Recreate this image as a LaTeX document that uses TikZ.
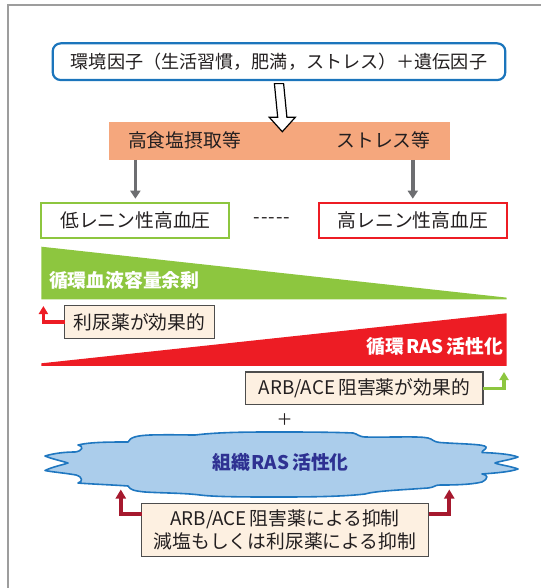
\documentclass[tikz,border=0pt]{standalone}
\usepackage{fontspec}
\setmainfont{Noto Sans CJK JP}
\usetikzlibrary{arrows.meta}
\definecolor{framegray}{HTML}{9D9D9D}
\definecolor{tblue}{HTML}{1B75BC}
\definecolor{salmon}{HTML}{F5A77D}
\definecolor{garrow}{HTML}{6D6E71}
\definecolor{lgreen}{HTML}{8DC63F}
\definecolor{bred}{HTML}{ED1C24}
\definecolor{cream}{HTML}{FDF0E1}
\definecolor{boxline}{HTML}{4D4D4D}
\definecolor{dred}{HTML}{A6192E}
\definecolor{cloudfill}{HTML}{ABCDEB}
\definecolor{cloudline}{HTML}{1F77C0}
\definecolor{navy}{HTML}{2E3192}
\definecolor{ink}{HTML}{231F20}
\begin{document}
\begin{tikzpicture}[x=1pt,y=-1pt,
  font=\fontsize{18.8}{23.4}\selectfont,
  every node/.style={inner sep=0pt, outer sep=0pt, text=ink},
  frameline/.style={draw=framegray, line width=2pt},
  hbox/.style={draw, line width=2pt, minimum height=35.6pt, fill=white},
  effbox/.style={draw=boxline, line width=1.2pt, fill=cream},
  grayarrow/.style={draw=garrow, line width=3.5pt, -{Triangle[width=10pt,length=8pt]}},
  elbow/.style={line width=3.3pt, -{Triangle[width=9pt,length=8pt]}},
  delbow/.style={draw=dred, line width=3.8pt, -{Triangle[width=10pt,length=9pt]}},
  whitebold/.style={text=white, font=\fontsize{18.8}{22}\selectfont\bfseries}
]
\useasboundingbox (0,0) rectangle (541,588);
% frame
\draw[frameline] (8.3,588) -- (8.3,5.5) -- (541,5.5);

% top box
\node[draw=tblue, line width=2.2pt, rounded corners=8pt, minimum width=452.6pt,
  minimum height=36.7pt, font=\fontsize{18.1}{22}\selectfont] (env) at (279,61.7)
  {環境因子（生活習慣，肥満，ストレス）＋遺伝因子};

% salmon band
\node[fill=salmon, minimum width=341.2pt, minimum height=38pt] (cause) at (279.6,141) {};
\node (salt) at (184.4,140) {高食塩摂取等};
\node (stress) at (383.5,140) {ストレス等};

% hollow arrow
\draw[fill=white, draw=black, line width=1.2pt, line join=miter]
  ([xshift=-4.6pt,yshift=-3.6pt]env.south) -- ([xshift=4.6pt,yshift=-3.6pt]env.south)
  -- (286.9,117.3) -- (295.3,117.3) -- (282.3,131.7) -- (269.3,117.3) -- (277.7,117.3) -- cycle;

% hypertension boxes
\node[hbox, draw=lgreen, minimum width=188pt] (low) at (135.4,220.5) {低レニン性高血圧};
\node[hbox, draw=bred, minimum width=187.5pt] (high) at (412.8,220.5) {高レニン性高血圧};
\node (dots) at (272,221) {{-}\kern1pt{-}\kern1pt{-}\kern1pt{-}\kern1pt{-}};

\draw[grayarrow, shorten >=4pt] (cause.south -| low.north) -- (low.north);
\draw[grayarrow, shorten >=4pt] (cause.south -| high.north) -- (high.north);

% wedges
\fill[lgreen] (41.4,246.7) -- (41.4,299.3) -- (506.5,299.3) -- (506.5,297.6) -- cycle;
\node[whitebold, anchor=west] (vol) at (49,280.5) {循環血液容量余剰};
\fill[bred] (41.4,363.3) -- (41.4,365.8) -- (506.5,365.8) -- (506.5,313.3) -- cycle;
\node[whitebold, anchor=east] (ras) at (503,346) {循環\hspace{2pt}RAS\hspace{3pt}活性化};

% effect boxes
\node[effbox, minimum width=150pt, minimum height=33pt] (diu) at (139.5,322) {利尿薬が効果的};
\coordinate (diutip) at (43.4,306);
\draw[elbow, draw=bred] (diu.west) -| (diutip);

\node[effbox, minimum width=237.4pt, minimum height=32.3pt] (arb) at (364.3,388.2)
  {ARB/ACE\hspace{3pt}阻害薬が効果的};
\coordinate (arbtip) at (504,372);
\draw[elbow, draw=lgreen] (arb.east) -| (arbtip);

\node[font=\fontsize{16}{18}\selectfont] (plus) at (284.6,420) {＋};

% cloud
\draw[draw=cloudline, fill=cloudfill, line width=1.6pt, line join=round]
  (45,456)
  .. controls (55,453) and (66,452) .. (75,452)
  .. controls (83,451) and (84,446) .. (78,445)
  .. controls (90,442) and (110,442) .. (128,442)
  .. controls (130,437) and (138,435.5) .. (150,435)
  .. controls (170,434.5) and (185,435) .. (195,435)
  .. controls (220,432) and (250,432) .. (275,432)
  .. controls (300,432) and (330,432) .. (353,433)
  .. controls (358,434) and (358,436.5) .. (365,437)
  .. controls (390,437.5) and (420,436) .. (428,438)
  .. controls (433,439) and (432,441.5) .. (440,442.5)
  .. controls (460,444) and (485,444) .. (486,447)
  .. controls (487,449.5) and (482,450) .. (482,452.5)
  .. controls (495,453) and (510,454) .. (518,457)
  .. controls (510,460) and (500,461) .. (495,463)
  .. controls (500,465) and (510,466) .. (518,469)
  .. controls (510,472) and (495,473) .. (482,474)
  .. controls (488,475) and (489,478) .. (482,482)
  .. controls (470,485) and (450,485) .. (440,485)
  .. controls (434,485) and (436,487) .. (428,488)
  .. controls (400,490) and (375,491) .. (365,494)
  .. controls (340,497) and (300,497) .. (275,497)
  .. controls (250,497) and (215,497) .. (200,495)
  .. controls (185,493) and (160,493) .. (145,492)
  .. controls (135,491) and (130,490) .. (128,486)
  .. controls (115,485) and (90,484) .. (78,483)
  .. controls (83,482) and (83,477) .. (76,475)
  .. controls (65,473) and (52,472) .. (45,470.5)
  .. controls (52,467) and (62,465) .. (68,463)
  .. controls (62,461) and (52,459) .. (45,456)
  -- cycle;
\node[text=navy, font=\fontsize{18.8}{22}\selectfont\bfseries] (tissue) at (280.5,462.5)
  {組織\hspace{2pt}RAS\hspace{3pt}活性化};

% suppression box
\node[effbox, minimum width=287pt, minimum height=53.4pt, align=center] (supp) at (285,530)
  {ARB/ACE\hspace{3pt}阻害薬による抑制\\減塩もしくは利尿薬による抑制};
\coordinate (ltip) at (120.8,489.5);
\coordinate (rtip) at (449.3,489.5);
\draw[delbow] ([yshift=16pt]supp.west) -| (ltip);
\draw[delbow] ([yshift=16pt]supp.east) -| (rtip);
\end{tikzpicture}
\end{document}
